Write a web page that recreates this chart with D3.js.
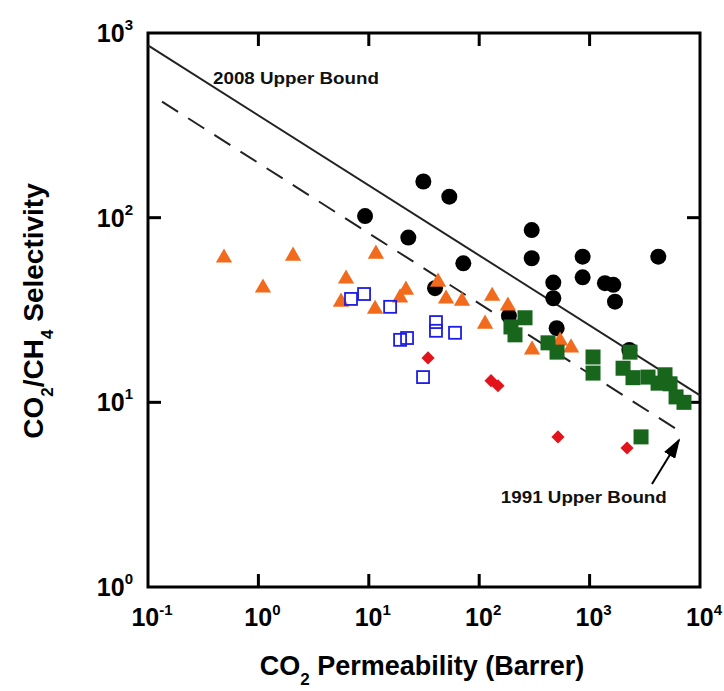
<!DOCTYPE html>
<html>
<head>
<meta charset="utf-8">
<script src="https://cdn.jsdelivr.net/npm/d3@7"></script>
<style>
  body { margin: 0; background: #fff; }
  svg { font-family: "Liberation Sans", Arial, sans-serif; font-weight: bold; }
</style>
</head>
<body>
<div id="chart"></div>
<script>
// CO2 permeability (Barrer) vs CO2/CH4 selectivity
var blackCircles = [[9.25,102],[22.8,78],[31.2,157],[53.6,130],[71.8,56.6],[39.8,41.5],
  [299,85.7],[299,60.3],[865,61.5],[865,47.5],[469,44.5],[469,36.6],[1377,44.2],
  [1640,43.3],[1698,35.1],[4190,61.5],[503,25.2],[2291,19.2],[186,29.4]];

var orangeTriangles = [[0.488,61.3],[1.10,42.2],[2.06,62.8],[6.22,47.2],[5.60,35.4],
  [11.6,64.4],[11.4,32.4],[21.7,41.1],[19.2,37.3],[42.4,45.4],[50.1,36.8],[69.8,35.8],
  [131,38.1],[113,26.9],[182,33.7],[301,19.5],[540,21.8],[679,20.0]];

var greenSquares = [[260,28.7],[194,25.6],[211,23.2],[420,21.0],[507,18.7],[1074,17.6],
  [1074,14.4],[2323,18.7],[2010,15.3],[2472,13.6],[3381,13.7],[4820,14.1],[5350,12.6],
  [4170,12.7],[6070,10.7],[7160,10.0],[2924,6.5]];

var blueSquares = [[6.90,36.3],[9.06,38.6],[15.6,32.9],[19.2,21.8],[22.2,22.3],
  [40.6,27.2],[40.6,24.4],[60.4,23.8],[31.0,13.7]];

var redDiamonds = [[34.4,17.4],[128,13.1],[148,12.3],[517,6.5],[2183,5.66]];

// upper bound lines (end points)
var bound2008 = [[0.1,857],[1e4,10.9]];
var bound1991 = [[0.134,425],[7000,6.8]];

var xTicks = [0.1, 1, 10, 100, 1000, 10000];
var yTicks = [1, 10, 100, 1000];
var xExp = ["-1","0","1","2","3","4"];
var yExp = ["0","1","2","3"];

var width = 724, height = 691;
var svg = d3.select("#chart").append("svg")
  .attr("width", width).attr("height", height);

var x = d3.scaleLog().domain([0.1, 1e4]).range([148, 700]);
var y = d3.scaleLog().domain([1, 1000]).range([587, 33]);
var x0 = x(0.1), x1 = x(1e4), y0 = y(1), y1 = y(1000);
var tl = 13, tw = 3;

// frame
svg.append("rect")
  .attr("x", x0).attr("y", y1)
  .attr("width", x1 - x0).attr("height", y0 - y1)
  .attr("fill", "none").attr("stroke", "#000").attr("stroke-width", 3);

// inward ticks on all four sides (drawn as thin filled rects)
var tg = svg.append("g").attr("fill", "#000");
xTicks.slice(1, -1).forEach(function(v) {
  tg.append("rect").attr("x", x(v) - tw / 2).attr("y", y0 - tl).attr("width", tw).attr("height", tl);
  tg.append("rect").attr("x", x(v) - tw / 2).attr("y", y1).attr("width", tw).attr("height", tl);
});
yTicks.slice(1, -1).forEach(function(v) {
  tg.append("rect").attr("x", x0).attr("y", y(v) - tw / 2).attr("width", tl).attr("height", tw);
  tg.append("rect").attr("x", x1 - tl).attr("y", y(v) - tw / 2).attr("width", tl).attr("height", tw);
});

// tick labels 10^n
xTicks.forEach(function(v, i) {
  var t = svg.append("text").attr("x", x(v) + 4).attr("y", 626)
    .attr("text-anchor", "middle").attr("font-size", 25);
  t.append("tspan").text("10");
  t.append("tspan").attr("dy", -11).attr("font-size", 15).text(xExp[i]);
});
yTicks.forEach(function(v, i) {
  var t = svg.append("text").attr("x", 133).attr("y", y(v) + 9)
    .attr("text-anchor", "end").attr("font-size", 25);
  t.append("tspan").text("10");
  t.append("tspan").attr("dy", -12).attr("font-size", 15).text(yExp[i]);
});

// axis titles
var xt = svg.append("text").attr("x", 422).attr("y", 675)
  .attr("text-anchor", "middle").attr("font-size", 27);
xt.append("tspan").text("CO");
xt.append("tspan").attr("dy", 10).attr("font-size", 17).text("2");
xt.append("tspan").attr("dy", -10).text(" Permeability (Barrer)");

var yt = svg.append("text").attr("transform", "translate(43,311) rotate(-90)")
  .attr("text-anchor", "middle").attr("font-size", 28);
yt.append("tspan").text("CO");
yt.append("tspan").attr("dy", 10).attr("font-size", 17).text("2");
yt.append("tspan").attr("dy", -10).text("/CH");
yt.append("tspan").attr("dy", 10).attr("font-size", 17).text("4");
yt.append("tspan").attr("dy", -10).text(" Selectivity");

// upper bounds
var line = d3.line().x(function(d) { return x(d[0]); }).y(function(d) { return y(d[1]); });
svg.append("path").datum(bound2008).attr("d", line)
  .attr("fill", "none").attr("stroke", "#222").attr("stroke-width", 2);
svg.append("path").datum(bound1991).attr("d", line)
  .attr("fill", "none").attr("stroke", "#222").attr("stroke-width", 2)
  .attr("stroke-dasharray", "19,12");

svg.append("text").attr("x", x(0.388)).attr("y", y(529))
  .attr("font-size", 16).attr("textLength", 166).attr("lengthAdjust", "spacingAndGlyphs")
  .attr("fill", "#111").text("2008 Upper Bound");
svg.append("text").attr("x", x(157)).attr("y", y(2.85))
  .attr("font-size", 16).attr("textLength", 166).attr("lengthAdjust", "spacingAndGlyphs")
  .attr("fill", "#111").text("1991 Upper Bound");

// arrow to the 1991 line
svg.append("defs").append("marker").attr("id", "head")
  .attr("viewBox", "0 0 10 10").attr("refX", 9).attr("refY", 5)
  .attr("markerWidth", 20).attr("markerHeight", 13).attr("markerUnits", "userSpaceOnUse")
  .attr("orient", "auto").attr("preserveAspectRatio", "none")
  .append("path").attr("d", "M0,0L10,5L0,10z").attr("fill", "#000");
svg.append("line")
  .attr("x1", x(3673)).attr("y1", y(3.61)).attr("x2", x(6457)).attr("y2", y(6.25))
  .attr("stroke", "#000").attr("stroke-width", 2).attr("marker-end", "url(#head)");

// markers
svg.append("g").selectAll("circle").data(blackCircles).enter().append("circle")
  .attr("cx", function(d) { return x(d[0]); })
  .attr("cy", function(d) { return y(d[1]); })
  .attr("r", 8).attr("fill", "#000");

var tri = d3.symbol().type(d3.symbolTriangle).size(115);
svg.append("g").selectAll("path").data(orangeTriangles).enter().append("path")
  .attr("d", tri)
  .attr("transform", function(d) { return "translate(" + x(d[0]) + "," + (y(d[1]) + 1) + ")"; })
  .attr("fill", "#f26b1d");

svg.append("g").selectAll("rect").data(greenSquares).enter().append("rect")
  .attr("x", function(d) { return x(d[0]) - 7.5; })
  .attr("y", function(d) { return y(d[1]) - 7.5; })
  .attr("width", 15).attr("height", 15).attr("fill", "#17661c");

svg.append("g").selectAll("rect").data(blueSquares).enter().append("rect")
  .attr("x", function(d) { return x(d[0]) - 6; })
  .attr("y", function(d) { return y(d[1]) - 6; })
  .attr("width", 12).attr("height", 12)
  .attr("fill", "none").attr("stroke", "#1d1de6").attr("stroke-width", 1.8);

var dia = d3.symbol().type(d3.symbolDiamond2).size(110);
svg.append("g").selectAll("path").data(redDiamonds).enter().append("path")
  .attr("d", dia)
  .attr("transform", function(d) { return "translate(" + x(d[0]) + "," + y(d[1]) + ")"; })
  .attr("fill", "#e3131b");
</script>
</body>
</html>
